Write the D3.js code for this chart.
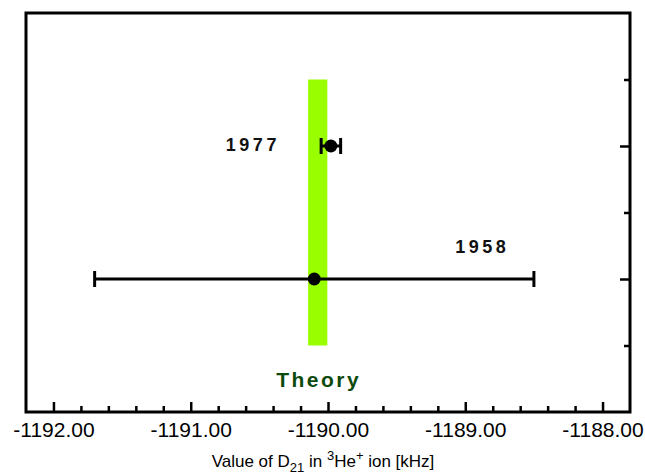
<!DOCTYPE html>
<html>
<head>
<meta charset="utf-8">
<script src="https://cdn.jsdelivr.net/npm/d3@7"></script>
<style>
	body { margin: 0; background: #fff; }
	svg { display: block; font-family: "Liberation Sans", Arial, sans-serif; }
	.domain { display: none; }
	.tick line { stroke: #000; stroke-width: 2.5; }
</style>
</head>
<body>
<div id="chart"></div>
<script>

// measurements of D21 in 3He+ (kHz)
const years = ["1958", "1977"];
const values = [-1190.1, -1189.979];
const errors = [1.6, 0.071];
const rows = [1, 2];

// theory band
const theoryRange = [-1190.145, -1190.005];
const theoryRows = [0.5, 2.5];

const xDomain = [-1192.2, -1187.8];
const xMajor = [-1192, -1191, -1190, -1189, -1188];
const yMajor = [1, 2];
const yMinor = [0.5, 1.5, 2.5];

let margin = {top: 13, right: 15, bottom: 63, left: 26};
let width = 645 - margin.left - margin.right;
let height = 475 - margin.top - margin.bottom;

let svg = d3.select("#chart").append("svg")
	.attr("width", 645)
	.attr("height", 475)
	.append("g")
	.attr("transform", "translate(" + margin.left + "," + margin.top + ")");

let x = d3.scaleLinear().domain(xDomain).range([0, width]);
let y = d3.scaleLinear().domain([0, 3]).range([height, 0]);

let xMinor = d3.range(-1192.2, -1187.7, 0.2).map(v => +v.toFixed(1)).filter(v => !xMajor.includes(v) && v > xDomain[0] && v < xDomain[1]);

// theory band
svg.append("rect")
	.attr("x", x(theoryRange[0]))
	.attr("width", x(theoryRange[1]) - x(theoryRange[0]))
	.attr("y", y(theoryRows[1]))
	.attr("height", y(theoryRows[0]) - y(theoryRows[1]))
	.attr("fill", "#99ff00");

svg.append("text")
	.attr("x", x((theoryRange[0] + theoryRange[1]) / 2) + 1)
	.attr("y", height - 25)
	.attr("text-anchor", "middle")
	.attr("font-size", 21)
	.attr("font-weight", "bold")
	.attr("letter-spacing", 2.5)
	.attr("fill", "#0d4a0d")
	.text("Theory");

// axes
svg.append("g")
	.attr("transform", "translate(0," + height + ")")
	.call(d3.axisBottom(x).tickValues(xMinor).tickSize(-6).tickFormat(""));

let xAxis = svg.append("g")
	.attr("transform", "translate(0," + height + ")")
	.call(d3.axisBottom(x).tickValues(xMajor).tickSize(-10).tickPadding(10).tickFormat(d3.format(".2f")));
xAxis.selectAll("text")
	.attr("font-size", 21)
	.attr("fill", "#000")
	.text(d => d3.format(".2f")(d).replace("−", "-"));

svg.append("g")
	.attr("transform", "translate(" + width + ",0)")
	.call(d3.axisRight(y).tickValues(yMinor).tickSize(-6).tickFormat(""));
svg.append("g")
	.attr("transform", "translate(" + width + ",0)")
	.call(d3.axisRight(y).tickValues(yMajor).tickSize(-10).tickFormat(""));

// frame
svg.append("rect")
	.attr("width", width)
	.attr("height", height)
	.attr("fill", "none")
	.attr("stroke", "#000")
	.attr("stroke-width", 3);

// error bars
let pts = years.map((d, i) => ({year: d, value: values[i], err: errors[i], row: rows[i]}));

svg.selectAll(".err")
	.data(pts)
	.enter()
	.append("line")
	.attr("class", "err")
	.attr("x1", d => x(d.value - d.err))
	.attr("x2", d => x(d.value + d.err))
	.attr("y1", d => y(d.row))
	.attr("y2", d => y(d.row))
	.attr("stroke", "#000")
	.attr("stroke-width", 3);

[-1, 1].forEach(s => {
	svg.selectAll(".cap" + s)
		.data(pts)
		.enter()
		.append("line")
		.attr("x1", d => x(d.value + s * d.err))
		.attr("x2", d => x(d.value + s * d.err))
		.attr("y1", d => y(d.row) - 8)
		.attr("y2", d => y(d.row) + 8)
		.attr("stroke", "#000")
		.attr("stroke-width", 3);
});

svg.selectAll(".dot")
	.data(pts)
	.enter()
	.append("circle")
	.attr("class", "dot")
	.attr("cx", d => x(d.value))
	.attr("cy", d => y(d.row))
	.attr("r", 6.5)
	.attr("fill", "#000");

// year labels
let labelOffset = {"1958": [168, -26], "1977": [-78, 5]};
svg.selectAll(".year")
	.data(pts)
	.enter()
	.append("text")
	.attr("class", "year")
	.attr("x", d => x(d.value) + labelOffset[d.year][0])
	.attr("y", d => y(d.row) + labelOffset[d.year][1])
	.attr("text-anchor", "middle")
	.attr("font-size", 18)
	.attr("font-weight", "bold")
	.attr("letter-spacing", 3.5)
	.attr("fill", "#111")
	.text(d => d.year);

// x axis title
let title = svg.append("text")
	.attr("x", width / 2 - 5)
	.attr("y", height + 55)
	.attr("text-anchor", "middle")
	.attr("font-size", 17)
	.attr("fill", "#000");
title.append("tspan").text("Value of D");
title.append("tspan").attr("font-size", 13).attr("dy", 5).text("21");
title.append("tspan").attr("dy", -5).text(" in ");
title.append("tspan").attr("font-size", 13).attr("dy", -7).text("3");
title.append("tspan").attr("dy", 7).text("He");
title.append("tspan").attr("font-size", 13).attr("dy", -7).text("+");
title.append("tspan").attr("dy", 7).text(" ion [kHz]");

</script>
</body>
</html>
